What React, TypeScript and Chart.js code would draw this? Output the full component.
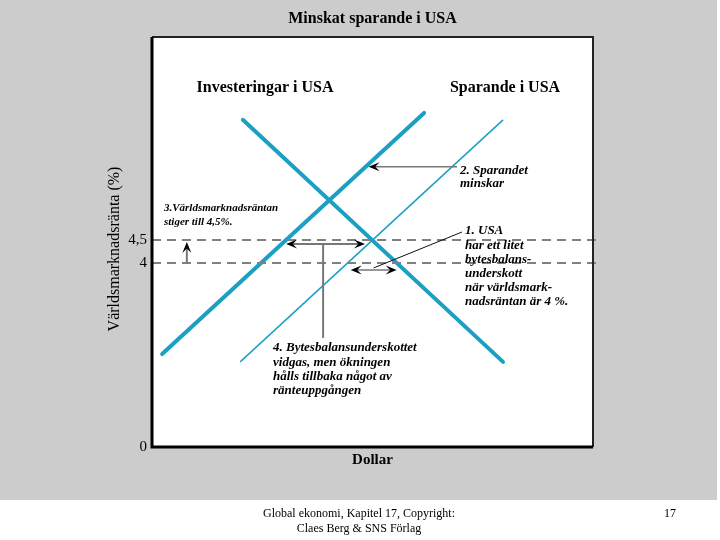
import React, { useEffect, useRef } from "react";
import { Chart, registerables } from "chart.js";

Chart.register(...registerables);

// ---- data (schematic units: x = dollar 0..100, y = world interest rate %) ----
const investX = [20.6, 79.6];
const investY = [7.11, 1.85];
const savingsOldX = [20.0, 79.6];
const savingsOldY = [1.85, 7.11];
const savingsNewX = [2.3, 61.7];
const savingsNewY = [2.02, 7.26];
const rateLevels = [4, 4.5];
const yTickValues = [0, 4, 4.5];
const yTickLabels = ["0", "4", "4,5"];
const xRange = [0, 100];
const yRange = [0, 8.91];

const chartTitle = "Minskat sparande i USA";
const yTitle = "Världsmarknadsränta (%)";
const xTitle = "Dollar";
const curveLabels = ["Investeringar i USA", "Sparande i USA"];
const note1 = ["1. USA", "har ett litet", "bytesbalans-", "underskott", "när världsmark-", "nadsräntan är 4 %."];
const note2 = ["2. Sparandet", "minskar"];
const note3 = ["3.Världsmarknadsräntan", "stiger till 4,5%."];
const note4 = ["4. Bytesbalansunderskottet", "vidgas, men ökningen", "hålls tillbaka något av", "ränteuppgången"];
const footerLines = ["Global ekonomi, Kapitel 17, Copyright:", "Claes Berg & SNS Förlag"];
const pageNumber = "17";

const savingsShiftRate = 6.09; // rate where "2." arrow meets new savings curve
const riseArrowX = 7.9; // x of the upward arrow (note 3)
const note4LineX = 38.8;
const note4LineBottomRate = 2.37;

const CYAN = "#1ba0c4";
const SERIF = "'Liberation Serif', 'DejaVu Serif', serif";

function xAtRate(xs: number[], ys: number[], r: number) {
  const t = (r - ys[0]) / (ys[1] - ys[0]);
  return xs[0] + t * (xs[1] - xs[0]);
}

function arrowHead(ctx: CanvasRenderingContext2D, x: number, y: number, angle: number, L = 11, W = 9) {
  ctx.save();
  ctx.translate(x, y);
  ctx.rotate(angle);
  ctx.beginPath();
  ctx.moveTo(0, 0);
  ctx.lineTo(-L, -W / 2);
  ctx.lineTo(-L * 0.6, 0);
  ctx.lineTo(-L, W / 2);
  ctx.closePath();
  ctx.fillStyle = "#000";
  ctx.fill();
  ctx.restore();
}

function textLines(ctx: CanvasRenderingContext2D, lines: string[], x: number, y: number, lh: number) {
  lines.forEach((l, i) => ctx.fillText(l, x, y + i * lh));
}

const decorPlugin = {
  id: "decor",
  beforeDraw(chart: any) {
    const { ctx, chartArea: a } = chart;
    ctx.save();
    ctx.fillStyle = "#ffffff";
    ctx.fillRect(0, 0, chart.width, chart.height);
    ctx.fillStyle = "#cccccc";
    ctx.fillRect(0, 0, 717, 500);
    ctx.fillStyle = "#ffffff";
    ctx.fillRect(a.left, a.top, a.right - a.left, a.bottom - a.top);
    ctx.restore();
  },
  afterDatasetsDraw(chart: any) {
    const { ctx, chartArea: a } = chart;
    const xs = chart.scales.x;
    const ys = chart.scales.y;
    ctx.save();

    // frame
    ctx.strokeStyle = "#222";
    ctx.lineWidth = 2;
    ctx.beginPath();
    ctx.moveTo(a.left, a.top);
    ctx.lineTo(a.right, a.top);
    ctx.lineTo(a.right, a.bottom);
    ctx.stroke();
    ctx.strokeStyle = "#000";
    ctx.lineWidth = 3;
    ctx.beginPath();
    ctx.moveTo(a.left, a.top);
    ctx.lineTo(a.left, a.bottom);
    ctx.lineTo(a.right, a.bottom);
    ctx.stroke();

    // arrow at 4.5 between new savings and investment
    const y45 = ys.getPixelForValue(rateLevels[1]) + 4;
    const xa1 = xs.getPixelForValue(xAtRate(savingsNewX, savingsNewY, rateLevels[1]));
    const xa2 = xs.getPixelForValue(xAtRate(investX, investY, rateLevels[1])) - 7;
    ctx.strokeStyle = "#777";
    ctx.lineWidth = 2;
    ctx.beginPath();
    ctx.moveTo(xa1 + 5, y45);
    ctx.lineTo(xa2 - 5, y45);
    ctx.stroke();
    arrowHead(ctx, xa1, y45, Math.PI);
    arrowHead(ctx, xa2, y45, 0);

    // vertical line to note 4
    const xv = xs.getPixelForValue(note4LineX);
    ctx.beginPath();
    ctx.moveTo(xv, y45);
    ctx.lineTo(xv, ys.getPixelForValue(note4LineBottomRate));
    ctx.stroke();

    // arrow at 4 between old savings and investment
    const y4 = ys.getPixelForValue(rateLevels[0]) + 7;
    const xb1 = xs.getPixelForValue(xAtRate(savingsOldX, savingsOldY, rateLevels[0])) + 3;
    const xb2 = xs.getPixelForValue(xAtRate(investX, investY, rateLevels[0]));
    ctx.lineWidth = 1.5;
    ctx.beginPath();
    ctx.moveTo(xb1 + 5, y4);
    ctx.lineTo(xb2 - 5, y4);
    ctx.stroke();
    arrowHead(ctx, xb1, y4, Math.PI);
    arrowHead(ctx, xb2, y4, 0);

    // connector to note 1
    ctx.strokeStyle = "#111";
    ctx.lineWidth = 1;
    ctx.beginPath();
    ctx.moveTo((xb1 + xb2) / 2, y4 - 2);
    ctx.lineTo(462, 232);
    ctx.stroke();

    // "2. Sparandet minskar" arrow
    const ys2 = ys.getPixelForValue(savingsShiftRate);
    const xs2 = xs.getPixelForValue(xAtRate(savingsNewX, savingsNewY, savingsShiftRate)) + 3;
    ctx.strokeStyle = "#777";
    ctx.lineWidth = 1.5;
    ctx.beginPath();
    ctx.moveTo(457, ys2);
    ctx.lineTo(xs2 + 5, ys2);
    ctx.stroke();
    arrowHead(ctx, xs2, ys2, Math.PI);

    // upward arrow (note 3)
    const xr = xs.getPixelForValue(riseArrowX);
    const yr0 = ys.getPixelForValue(rateLevels[0]);
    const yr1 = ys.getPixelForValue(rateLevels[1]) + 2;
    ctx.lineWidth = 2;
    ctx.beginPath();
    ctx.moveTo(xr, yr0);
    ctx.lineTo(xr, yr1 + 5);
    ctx.stroke();
    arrowHead(ctx, xr, yr1, -Math.PI / 2);

    // texts
    ctx.fillStyle = "#000";
    ctx.textBaseline = "middle";
    ctx.textAlign = "center";
    ctx.font = `bold 16px ${SERIF}`;
    ctx.fillText(chartTitle, (a.left + a.right) / 2, 19);
    ctx.font = `bold 16px ${SERIF}`;
    ctx.fillText(curveLabels[0], 265, 88);
    ctx.fillText(curveLabels[1], 505, 88);
    ctx.font = `bold 15px ${SERIF}`;
    ctx.fillText(xTitle, (a.left + a.right) / 2, 460);

    ctx.save();
    ctx.translate(115, 249);
    ctx.rotate(-Math.PI / 2);
    ctx.font = `16px ${SERIF}`;
    ctx.fillText(yTitle, 0, 0);
    ctx.restore();

    ctx.textAlign = "left";
    ctx.font = `italic bold 11px ${SERIF}`;
    textLines(ctx, note3, 164, 208, 14);
    ctx.font = `italic bold 13px ${SERIF}`;
    textLines(ctx, note2, 460, 171, 13);
    textLines(ctx, note1, 465, 231, 14.2);
    textLines(ctx, note4, 273, 348, 14.2);

    ctx.font = `12px ${SERIF}`;
    ctx.textAlign = "center";
    textLines(ctx, footerLines, 359, 514, 15);
    ctx.fillText(pageNumber, 670, 514);
    ctx.restore();
  },
};

export default function App() {
  const ref = useRef<HTMLCanvasElement>(null);
  useEffect(() => {
    if (!ref.current) return;
    const line = (xs: number[], ysArr: number[]) => xs.map((x, i) => ({ x, y: ysArr[i] }));
    const chart = new Chart(ref.current, {
      type: "scatter",
      data: {
        datasets: [
          ...rateLevels.map((r) => ({
            data: [
              { x: xRange[0], y: r },
              { x: 101.3, y: r },
            ],
            showLine: true,
            borderColor: "#808080",
            borderWidth: 2,
            borderDash: [9, 6],
            pointRadius: 0,
            clip: false as any,
          })),
          { data: line(investX, investY), showLine: true, borderColor: CYAN, borderWidth: 4, pointRadius: 0, borderCapStyle: "round" as const },
          { data: line(savingsOldX, savingsOldY), showLine: true, borderColor: CYAN, borderWidth: 1.5, pointRadius: 0 },
          { data: line(savingsNewX, savingsNewY), showLine: true, borderColor: CYAN, borderWidth: 4, pointRadius: 0, borderCapStyle: "round" as const },
        ],
      },
      options: {
        animation: false,
        responsive: false,
        events: [],
        layout: { padding: { left: 100, top: 37, right: 127, bottom: 93 } },
        plugins: { legend: { display: false }, tooltip: { enabled: false }, title: { display: false } },
        scales: {
          x: { type: "linear", min: xRange[0], max: xRange[1], display: false },
          y: {
            type: "linear",
            min: yRange[0],
            max: yRange[1],
            grid: { display: false, drawTicks: false },
            border: { display: false },
            afterBuildTicks: (s: any) => {
              s.ticks = yTickValues.map((v) => ({ value: v }));
            },
            afterFit: (s: any) => {
              s.width = 52;
            },
            ticks: {
              padding: 5,
              color: "#000",
              font: { family: SERIF, size: 15 },
              callback: (_v: any, i: number) => yTickLabels[i],
            },
          },
        },
      },
      plugins: [decorPlugin],
    });
    return () => chart.destroy();
  }, []);
  return (
    <div style={{ position: "absolute", left: 0, top: 0, width: 720, height: 540 }}>
      <canvas ref={ref} width={720} height={540} style={{ width: 720, height: 540 }} />
    </div>
  );
}
